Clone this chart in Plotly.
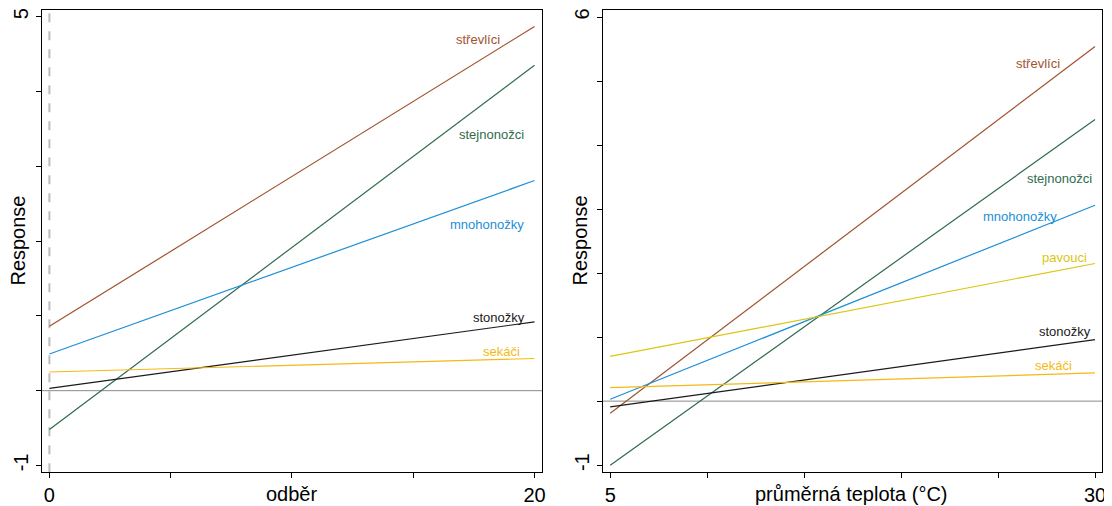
import plotly.graph_objects as go

# ---- data ----
odber_range = [0, 20]
teplota_range = [5, 30]

groups_left = ["střevlíci", "stejnonožci", "mnohonožky", "stonožky", "sekáči"]
odber_start = [0.86, -0.52, 0.49, 0.03, 0.25]
odber_end = [4.87, 4.35, 2.81, 0.92, 0.43]

groups_right = ["střevlíci", "stejnonožci", "mnohonožky", "pavouci", "stonožky", "sekáči"]
teplota_start = [-0.19, -1.00, 0.03, 0.70, -0.09, 0.21]
teplota_end = [5.54, 4.40, 3.06, 2.15, 0.96, 0.44]

left_yticks = [-1, 0, 1, 2, 3, 4, 5]
left_yticktext = ["-1", "", "", "", "", "", "5"]
right_yticks = [-1, 0, 1, 2, 3, 4, 5, 6]
right_yticktext = ["-1", "", "", "", "", "", "", "6"]
left_xticks = [0, 5, 10, 15, 20]
left_xticktext = ["0", "", "", "", "20"]
right_xticks = [5, 10, 15, 20, 25, 30]
right_xticktext = ["5", "", "", "", "", "30"]

# ---- styles ----
colors = {
    "střevlíci": "#A0522D",
    "stejnonožci": "#2F6B4C",
    "mnohonožky": "#1C8FD6",
    "pavouci": "#DCC510",
    "stonožky": "#1A1A1A",
    "sekáči": "#F5B914",
}
# label anchor positions (right edge, vertical centre) in data coordinates
left_label_pos = {
    "střevlíci": (18.64, 4.70),
    "stejnonožci": (19.63, 3.43),
    "mnohonožky": (19.63, 2.22),
    "stonožky": (19.67, 0.98),
    "sekáči": (19.47, 0.53),
}
right_label_pos = {
    "střevlíci": (28.30, 5.27),
    "stejnonožci": (29.94, 3.48),
    "mnohonožky": (28.15, 2.88),
    "pavouci": (29.69, 2.24),
    "stonožky": (29.90, 1.09),
    "sekáči": (28.92, 0.56),
}

FONT = "Liberation Sans, Arial, sans-serif"
# the page body has an 8px margin: the figure starts at (8, 8) of the window
OFF = 8
W, H = 1112 - OFF, 506 - OFF


def fx(px):
    return (px - OFF) / W


def fy(py):
    return 1 - (py - OFF) / H


fig = go.Figure()

for g, s, e in zip(groups_left, odber_start, odber_end):
    fig.add_trace(go.Scatter(x=odber_range, y=[s, e], mode="lines",
                             line=dict(color=colors[g], width=1.2),
                             showlegend=False, xaxis="x", yaxis="y", hoverinfo="skip"))
for g, s, e in zip(groups_right, teplota_start, teplota_end):
    fig.add_trace(go.Scatter(x=teplota_range, y=[s, e], mode="lines",
                             line=dict(color=colors[g], width=1.2),
                             showlegend=False, xaxis="x2", yaxis="y2", hoverinfo="skip"))

annotations = []
for g in groups_left:
    x, y = left_label_pos[g]
    annotations.append(dict(x=x, y=y, xref="x", yref="y", text=g, showarrow=False,
                            xanchor="right", yanchor="middle",
                            font=dict(family=FONT, size=13, color=colors[g])))
for g in groups_right:
    x, y = right_label_pos[g]
    annotations.append(dict(x=x, y=y, xref="x2", yref="y2", text=g, showarrow=False,
                            xanchor="right", yanchor="middle",
                            font=dict(family=FONT, size=13, color=colors[g])))

title_font = dict(family=FONT, size=20, color="black")
annotations += [
    dict(x=fx(18), y=fy(240), xref="paper", yref="paper", text="Response",
         textangle=-90, showarrow=False, xanchor="center", yanchor="middle", font=title_font),
    dict(x=fx(582), y=fy(240), xref="paper", yref="paper", text="Response",
         textangle=-90, showarrow=False, xanchor="center", yanchor="middle", font=title_font),
    dict(x=fx(293), y=fy(495), xref="paper", yref="paper", text="odběr",
         showarrow=False, xanchor="center", yanchor="middle", font=title_font),
    dict(x=fx(855), y=fy(495), xref="paper", yref="paper", text="průměrná teplota (°C)",
         showarrow=False, xanchor="center", yanchor="middle", font=title_font),
]

shapes = [
    dict(type="line", xref="x", yref="y domain", x0=0, x1=0, y0=0, y1=1,
         line=dict(color="#BDBDBD", width=2, dash="dash"), layer="below"),
    dict(type="line", xref="x domain", yref="y", x0=0, x1=1, y0=0, y1=0,
         line=dict(color="#8A8A8A", width=1), layer="below"),
    dict(type="line", xref="x2 domain", yref="y2", x0=0, x1=1, y0=0, y1=0,
         line=dict(color="#8A8A8A", width=1), layer="below"),
]

axis_common = dict(showgrid=False, zeroline=False, showline=True, linecolor="black",
                   linewidth=1.3, mirror=True, ticks="outside", ticklen=5,
                   tickcolor="black", tickwidth=1, ticklabeloverflow="allow",
                   tickfont=dict(family=FONT, size=20, color="black"))

fig.update_layout(
    width=W, height=H,
    margin=dict(l=0, r=0, t=0, b=0),
    paper_bgcolor="white", plot_bgcolor="white",
    showlegend=False,
    xaxis=dict(domain=[fx(42), fx(544)], range=[-0.31, 20.31], anchor="y",
               tickmode="array", tickvals=left_xticks, ticktext=left_xticktext, **axis_common),
    yaxis=dict(domain=[fy(473), fy(8)], range=[-1.09, 5.09], anchor="x",
               tickmode="array", tickvals=left_yticks, ticktext=left_yticktext,
               tickangle=-90, **axis_common),
    xaxis2=dict(domain=[fx(605), fx(1106)], range=[4.62, 30.36], anchor="y2",
                tickmode="array", tickvals=right_xticks, ticktext=right_xticktext, **axis_common),
    yaxis2=dict(domain=[fy(473), fy(8)], range=[-1.11, 6.11], anchor="x2",
                tickmode="array", tickvals=right_yticks, ticktext=right_yticktext,
                tickangle=-90, **axis_common),
    annotations=annotations,
    shapes=shapes,
)

fig.write_html("out.html")
